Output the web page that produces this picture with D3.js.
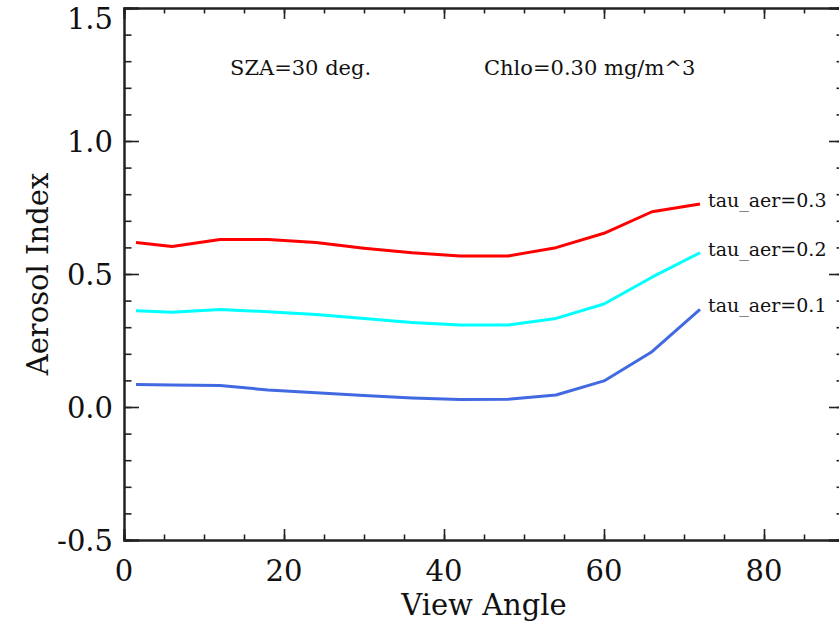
<!DOCTYPE html>
<html>
<head>
<meta charset="utf-8">
<script src="https://cdn.jsdelivr.net/npm/d3@7"></script>
<style>
body { margin: 0; background: #fff; }
text { font-family: "DejaVu Serif", serif; fill: #111; }
</style>
</head>
<body>
<script>
var width = 839;
var height = 626;

// view angles (deg)
var viewAngle = [1.5, 6, 12, 18, 24, 30, 36, 42, 48, 54, 60, 66, 72];
// aerosol index for each aerosol optical depth
var tau03 = [0.618, 0.603, 0.630, 0.630, 0.618, 0.597, 0.580, 0.568, 0.568, 0.599, 0.653, 0.734, 0.763];
var tau02 = [0.362, 0.356, 0.367, 0.358, 0.348, 0.333, 0.318, 0.308, 0.308, 0.333, 0.387, 0.488, 0.580];
var tau01 = [0.085, 0.083, 0.081, 0.064, 0.054, 0.043, 0.034, 0.028, 0.029, 0.045, 0.098, 0.208, 0.367];
var seriesNames = ["tau_aer=0.3", "tau_aer=0.2", "tau_aer=0.1"];
var seriesColors = ["#ff0000", "#00ffff", "#4169e1"];
var xTicks = [0, 20, 40, 60, 80];
var yTicks = [-0.5, 0.0, 0.5, 1.0, 1.5];

var x = d3.scaleLinear().domain([0, 90]).range([124, 844]);
var y = d3.scaleLinear().domain([-0.5, 1.5]).range([540, 8]);

var svg = d3.select("body")
            .append("svg")
            .attr("width", width)
            .attr("height", height);

// axes: ticks point inward, like IDL
var xMinor = d3.range(0, 91, 5);
var yMinor = d3.range(-0.5, 1.51, 0.1);

svg.append("g")
    .attr("transform", "translate(0," + y(-0.5) + ")")
    .call(d3.axisTop(x).tickValues(xMinor).tickSize(5.5).tickFormat(""));
svg.append("g")
    .attr("transform", "translate(0," + y(-0.5) + ")")
    .call(d3.axisTop(x).tickValues(xTicks).tickSize(11).tickFormat(""));
svg.append("g")
    .attr("transform", "translate(0," + y(1.5) + ")")
    .call(d3.axisBottom(x).tickValues(xMinor).tickSize(5.5).tickFormat(""));
svg.append("g")
    .attr("transform", "translate(0," + y(1.5) + ")")
    .call(d3.axisBottom(x).tickValues(xTicks).tickSize(11).tickFormat(""));
svg.append("g")
    .attr("transform", "translate(" + x(0) + ",0)")
    .call(d3.axisRight(y).tickValues(yMinor).tickSize(7.5).tickFormat(""));
svg.append("g")
    .attr("transform", "translate(" + x(0) + ",0)")
    .call(d3.axisRight(y).tickValues(yTicks).tickSize(15).tickFormat(""));
svg.append("g")
    .attr("transform", "translate(" + x(90) + ",0)")
    .call(d3.axisLeft(y).tickValues(yMinor).tickSize(7.5).tickFormat(""));
svg.append("g")
    .attr("transform", "translate(" + x(90) + ",0)")
    .call(d3.axisLeft(y).tickValues(yTicks).tickSize(15).tickFormat(""));

svg.selectAll(".domain").attr("stroke", "#222").attr("stroke-width", 2);
svg.selectAll(".tick line").attr("stroke", "#222").attr("stroke-width", 1.6);

// tick labels
svg.selectAll(".xlab")
    .data(xTicks)
    .enter()
    .append("text")
    .attr("class", "xlab")
    .attr("x", function(d) { return x(d); })
    .attr("y", 581)
    .attr("text-anchor", "middle")
    .style("font-size", "29px")
    .text(function(d) { return d; });
svg.selectAll(".ylab")
    .data(yTicks)
    .enter()
    .append("text")
    .attr("class", "ylab")
    .attr("x", 113)
    .attr("y", function(d) { return Math.max(y(d) + 11, 29); })
    .attr("text-anchor", "end")
    .style("font-size", "29px")
    .text(function(d) { return d3.format(".1f")(d).replace("−", "-"); });

svg.append("text")
    .attr("x", 484)
    .attr("y", 615)
    .attr("text-anchor", "middle")
    .style("font-size", "29px")
    .text("View Angle");
svg.append("text")
    .attr("transform", "translate(48," + y(0.5) + ") rotate(-90)")
    .attr("text-anchor", "middle")
    .style("font-size", "29px")
    .text("Aerosol Index");

svg.append("text")
    .attr("x", 230)
    .attr("y", 75)
    .style("font-size", "21px")
    .text("SZA=30 deg.");
svg.append("text")
    .attr("x", 484)
    .attr("y", 75)
    .style("font-size", "21px")
    .text("Chlo=0.30 mg/m^3");

// curves
var allSeries = [tau03, tau02, tau01];
var line = d3.line()
    .x(function(d, i) { return x(viewAngle[i]); })
    .y(function(d) { return y(d); });

svg.selectAll(".curve")
    .data(allSeries)
    .enter()
    .append("path")
    .attr("class", "curve")
    .attr("d", line)
    .attr("fill", "none")
    .attr("stroke", function(d, i) { return seriesColors[i]; })
    .attr("stroke-width", 3)
    .attr("stroke-linejoin", "round");

svg.selectAll(".serieslab")
    .data(allSeries)
    .enter()
    .append("text")
    .attr("class", "serieslab")
    .attr("x", x(viewAngle[viewAngle.length - 1]) + 8)
    .attr("y", function(d) { return y(d[d.length - 1]) + 3; })
    .style("font-size", "19px")
    .text(function(d, i) { return seriesNames[i]; });
</script>
</body>
</html>
